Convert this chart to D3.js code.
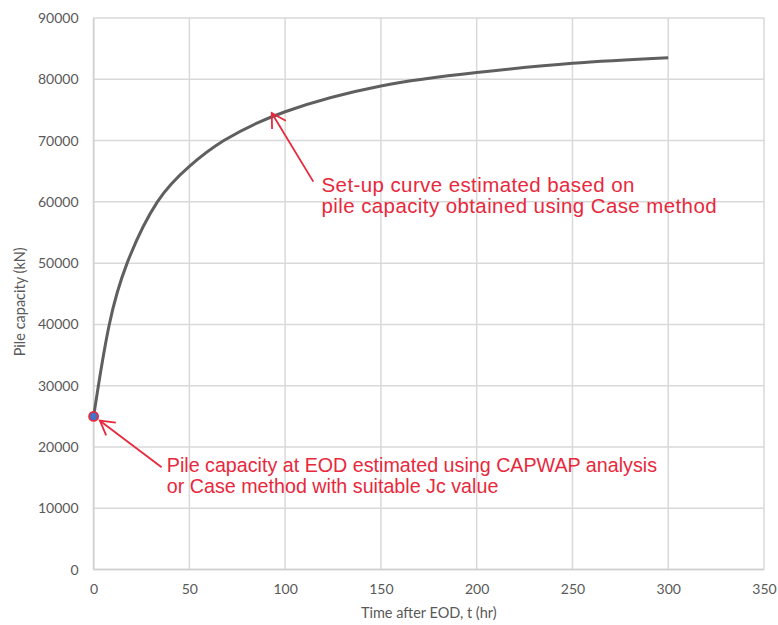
<!DOCTYPE html>
<html><head><meta charset="utf-8">
<script src="https://cdn.jsdelivr.net/npm/d3@7"></script>
<style>body{margin:0;background:#fff} svg{display:block}</style>
</head><body><svg id="c" width="778" height="625"></svg>
<script>
// ---- data ----
const timeHr     = [0, 2.5, 8.2, 17.5, 33.3, 50, 68, 100, 150, 200, 250, 300];
const capacityKN = [25000, 30000, 40000, 50000, 60000, 65800, 70000, 74700, 78900, 81100, 82600, 83500];
const eodTime = [0];
const eodCapacity = [25000];
const xTickValues = [0, 50, 100, 150, 200, 250, 300, 350];
const yTickValues = [0, 10000, 20000, 30000, 40000, 50000, 60000, 70000, 80000, 90000];
const xTitle = "Time after EOD, t (hr)";
const yTitle = "Pile capacity (kN)";
const noteSetup = ["Set-up curve estimated based on", "pile capacity obtained using Case method"];
const noteEOD = ["Pile capacity at EOD estimated using CAPWAP analysis", "or Case method with suitable Jc value"];
// annotation anchors in data units: [t, kN]
const noteSetupTip = [93, 74500], noteSetupTail = [114.7, 63300], noteSetupText = [119, 61670];
const noteEODTip = [3.3, 24300], noteEODTail = [35.5, 16690], noteEODText = [38.2, 15980];

// ---- layout ----
const W = 778, H = 625;
const m = {l: 93.6, r: 14, t: 18, b: 55.4};
const svg = d3.select("#c");
const x = d3.scaleLinear().domain([0, 350]).range([m.l, W - m.r]);
const y = d3.scaleLinear().domain([0, 90000]).range([H - m.b, m.t]);
const grid = "#d9d9d9", axisTxt = "#595959", red = "#e8283c";
const font = "Lato, 'Open Sans', sans-serif";

// gridlines
svg.append("g").selectAll("line").data(xTickValues).join("line")
  .attr("x1", d => x(d)).attr("x2", d => x(d)).attr("y1", y(0)).attr("y2", y(90000))
  .attr("stroke", grid).attr("stroke-width", 1.5);
svg.append("g").selectAll("line").data(yTickValues).join("line")
  .attr("x1", x(0)).attr("x2", x(350)).attr("y1", d => y(d)).attr("y2", d => y(d))
  .attr("stroke", grid).attr("stroke-width", 1.5);
svg.append("line").attr("x1", x(0)).attr("x2", x(0)).attr("y1", y(0)).attr("y2", y(90000)).attr("stroke", "#cfcfcf").attr("stroke-width", 1.5);
svg.append("line").attr("x1", x(0)).attr("x2", x(350)).attr("y1", y(0)).attr("y2", y(0)).attr("stroke", "#cfcfcf").attr("stroke-width", 1.5);

// axes (labels only)
const xAxis = svg.append("g").attr("transform", `translate(0,${y(0)})`)
  .call(d3.axisBottom(x).tickValues(xTickValues).tickSize(0).tickPadding(14));
const yAxis = svg.append("g").attr("transform", `translate(${x(0)},0)`)
  .call(d3.axisLeft(y).tickValues(yTickValues).tickFormat(d3.format("d")).tickSize(0).tickPadding(15));
[xAxis, yAxis].forEach(g => {
  g.select(".domain").remove();
  g.selectAll("text").attr("fill", axisTxt).style("font-family", font).style("font-size", "14px");
});

// titles
svg.append("text").attr("x", (x(0) + x(350)) / 2).attr("y", 618).attr("text-anchor", "middle")
  .attr("fill", axisTxt).style("font-family", font).style("font-size", "14.5px").text(xTitle);
svg.append("text").attr("transform", `translate(25,${(y(0) + y(90000)) / 2 + 8}) rotate(-90)`).attr("text-anchor", "middle")
  .attr("fill", axisTxt).style("font-family", font).style("font-size", "14.5px").text(yTitle);

// curve
const pts = timeHr.map((t, i) => [t, capacityKN[i]]);
svg.append("path").datum(pts)
  .attr("d", d3.line().x(d => x(d[0])).y(d => y(d[1])).curve(d3.curveNatural))
  .attr("fill", "none").attr("stroke", "#5f5f5f").attr("stroke-width", 3);

// EOD point
svg.append("g").selectAll("circle").data(eodTime.map((t, i) => [t, eodCapacity[i]])).join("circle")
  .attr("cx", d => x(d[0])).attr("cy", d => y(d[1])).attr("r", 4.5)
  .attr("fill", "#4472c4").attr("stroke", red).attr("stroke-width", 1.8);

// annotations
function arrow(tip, tail) {
  const [tx, ty] = [x(tip[0]), y(tip[1])], [sx, sy] = [x(tail[0]), y(tail[1])];
  const ang = Math.atan2(sy - ty, sx - tx), L = 16, a = Math.PI / 6;
  const g = svg.append("g").attr("stroke", red).attr("stroke-width", 1.8).attr("fill", "none");
  g.append("line").attr("x1", sx).attr("y1", sy).attr("x2", tx).attr("y2", ty);
  g.append("path").attr("d", `M${tx + L * Math.cos(ang - a)},${ty + L * Math.sin(ang - a)}L${tx},${ty}L${tx + L * Math.cos(ang + a)},${ty + L * Math.sin(ang + a)}`);
}
function note(lines, pos, size, spacing) {
  const t = svg.append("text").attr("x", x(pos[0])).attr("y", y(pos[1])).attr("fill", red)
    .style("font-family", "'Liberation Sans', Arial, sans-serif").style("font-size", size + "px")
    .style("letter-spacing", spacing + "px");
  lines.forEach((s, i) => t.append("tspan").attr("x", x(pos[0])).attr("dy", i ? 21 : 0).text(s));
}
arrow(noteSetupTip, noteSetupTail);
arrow(noteEODTip, noteEODTail);
note(noteSetup, noteSetupText, 20.5, 0.4);
note(noteEOD, noteEODText, 19.7, 0);
</script></body></html>
